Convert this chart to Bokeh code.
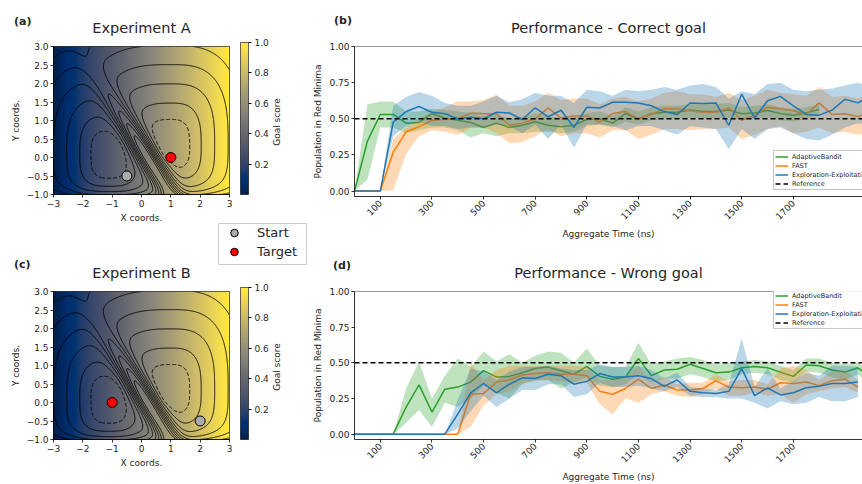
import numpy as np
from bokeh.plotting import figure
from bokeh.models import (LinearColorMapper, ColorBar, FixedTicker, Legend, LegendItem, Span,
                          Range1d, NumeralTickFormatter, CustomJSTickFormatter, GridBox, Div)
from bokeh.palettes import Cividis256
from bokeh.embed import file_html
from bokeh.resources import INLINE

FONT = "DejaVu Sans"
TXT = "#262626"
GREEN, ORANGE, BLUE = "#2ca02c", "#ff7f0e", "#1f77b4"

# ---------------------------------------------------------------- data
times = [0, 50, 100, 150, 200, 250, 300, 350, 400, 450, 500, 550, 600, 650, 700,
         750, 800, 850, 900, 950, 1000, 1050, 1100, 1150, 1200, 1250, 1300, 1350,
         1400, 1450, 1500, 1550, 1600, 1650, 1700, 1750, 1800, 1850, 1900, 1950, 2000]

# (b) correct goal
ab_correct = [0.00, 0.345, 0.53, 0.53, 0.47, 0.475, 0.535, 0.505, 0.49, 0.475, 0.44, 0.47, 0.44,
              0.455, 0.48, 0.455, 0.445, 0.455, 0.495, 0.50, 0.47, 0.535, 0.50, 0.535, 0.545,
              0.545, 0.56, 0.55, 0.55, 0.56, 0.535, 0.54, 0.557, 0.536, 0.525, 0.54, 0.565]
ab_correct_lo = [0.0, 0.08, 0.44, 0.44, 0.40, 0.42, 0.44, 0.44, 0.42, 0.37, 0.40, 0.38, 0.40, 0.40,
                 0.41, 0.41, 0.40, 0.41, 0.45, 0.46, 0.44, 0.48, 0.46, 0.49, 0.50, 0.50, 0.51, 0.50,
                 0.50, 0.51, 0.49, 0.50, 0.51, 0.49, 0.48, 0.50, 0.52]
ab_correct_hi = [0.0, 0.60, 0.62, 0.62, 0.55, 0.55, 0.57, 0.56, 0.55, 0.54, 0.52, 0.53, 0.50, 0.51,
                 0.54, 0.52, 0.50, 0.51, 0.54, 0.55, 0.52, 0.58, 0.55, 0.58, 0.59, 0.59, 0.60, 0.60,
                 0.60, 0.61, 0.58, 0.59, 0.60, 0.58, 0.57, 0.58, 0.60]

fast_correct = [0.0, 0.0, 0.0, 0.27, 0.41, 0.445, 0.49, 0.495, 0.50, 0.54, 0.535, 0.535, 0.455, 0.47,
                0.50, 0.575, 0.505, 0.52, 0.52, 0.477, 0.536, 0.55, 0.50, 0.53, 0.57, 0.57, 0.555,
                0.545, 0.545, 0.575, 0.49, 0.525, 0.58, 0.57, 0.555, 0.53, 0.61, 0.53, 0.535, 0.515,
                0.545]
fast_correct_lo = [0.0, 0.0, 0.0, 0.005, 0.26, 0.38, 0.42, 0.41, 0.39, 0.44, 0.44, 0.40, 0.33, 0.34,
                   0.38, 0.43, 0.38, 0.40, 0.40, 0.37, 0.42, 0.42, 0.36, 0.39, 0.43, 0.43, 0.42, 0.43,
                   0.43, 0.44, 0.36, 0.39, 0.43, 0.45, 0.40, 0.41, 0.44, 0.40, 0.41, 0.39, 0.40]
fast_correct_hi = [0.0, 0.0, 0.0, 0.36, 0.44, 0.50, 0.55, 0.58, 0.62, 0.62, 0.63, 0.665, 0.59, 0.59,
                   0.62, 0.68, 0.63, 0.64, 0.64, 0.60, 0.64, 0.65, 0.62, 0.64, 0.68, 0.69, 0.67, 0.67,
                   0.65, 0.68, 0.63, 0.66, 0.70, 0.68, 0.67, 0.66, 0.72, 0.65, 0.66, 0.64, 0.68]

ee_correct = [0.0, 0.0, 0.0, 0.476, 0.55, 0.585, 0.545, 0.535, 0.50, 0.51, 0.50, 0.545, 0.54, 0.495,
              0.576, 0.514, 0.559, 0.44, 0.58, 0.575, 0.614, 0.614, 0.609, 0.59, 0.55, 0.53, 0.609,
              0.605, 0.61, 0.455, 0.67, 0.505, 0.625, 0.655, 0.59, 0.53, 0.525, 0.56, 0.635, 0.61,
              0.66]
ee_correct_lo = [0.0, 0.0, 0.0, 0.38, 0.45, 0.48, 0.45, 0.45, 0.43, 0.44, 0.44, 0.46, 0.45, 0.40,
                 0.46, 0.36, 0.46, 0.30, 0.46, 0.46, 0.45, 0.42, 0.45, 0.45, 0.42, 0.39, 0.45, 0.44,
                 0.43, 0.29, 0.43, 0.36, 0.43, 0.44, 0.40, 0.36, 0.35, 0.39, 0.44, 0.47, 0.45]
ee_correct_hi = [0.0, 0.0, 0.0, 0.59, 0.65, 0.685, 0.66, 0.61, 0.59, 0.59, 0.62, 0.66, 0.615, 0.635,
                 0.68, 0.66, 0.66, 0.61, 0.70, 0.69, 0.66, 0.70, 0.69, 0.70, 0.72, 0.70, 0.73, 0.74,
                 0.72, 0.64, 0.69, 0.67, 0.74, 0.75, 0.70, 0.69, 0.70, 0.71, 0.73, 0.75, 0.72]

# (d) wrong goal
ab_wrong = [0.0, 0.0, 0.0, 0.0, 0.19, 0.345, 0.155, 0.315, 0.33, 0.365, 0.445, 0.40, 0.405, 0.43,
            0.46, 0.47, 0.445, 0.42, 0.475, 0.405, 0.385, 0.40, 0.53, 0.41, 0.45, 0.455, 0.49, 0.46,
            0.43, 0.435, 0.465, 0.475, 0.465, 0.435, 0.405, 0.485, 0.48, 0.45, 0.435, 0.465, 0.40]
ab_wrong_lo = [0.0, 0.0, 0.0, 0.0, 0.08, 0.17, 0.05, 0.22, 0.19, 0.25, 0.34, 0.29, 0.25, 0.35, 0.38,
               0.38, 0.32, 0.36, 0.40, 0.34, 0.33, 0.35, 0.42, 0.36, 0.39, 0.39, 0.42, 0.40, 0.37,
               0.38, 0.42, 0.43, 0.42, 0.38, 0.36, 0.44, 0.43, 0.40, 0.38, 0.42, 0.34]
ab_wrong_hi = [0.0, 0.0, 0.0, 0.0, 0.32, 0.51, 0.25, 0.41, 0.53, 0.47, 0.58, 0.51, 0.56, 0.50, 0.55,
               0.58, 0.57, 0.50, 0.60, 0.48, 0.47, 0.47, 0.64, 0.49, 0.51, 0.53, 0.54, 0.52, 0.49,
               0.50, 0.51, 0.52, 0.51, 0.48, 0.45, 0.53, 0.53, 0.50, 0.49, 0.50, 0.46]

fast_wrong = [0.0, 0.0, 0.0, 0.0, 0.0, 0.0, 0.0, 0.0, 0.0, 0.28, 0.285, 0.365, 0.38, 0.415, 0.425,
              0.43, 0.42, 0.42, 0.41, 0.30, 0.28, 0.32, 0.385, 0.32, 0.345, 0.31, 0.31, 0.32, 0.375,
              0.33, 0.325, 0.33, 0.315, 0.36, 0.355, 0.365, 0.34, 0.375, 0.385, 0.33]
fast_wrong_lo = [0.0, 0.0, 0.0, 0.0, 0.0, 0.0, 0.0, 0.0, 0.0, 0.05, 0.20, 0.28, 0.30, 0.36, 0.37,
                 0.38, 0.37, 0.36, 0.36, 0.21, 0.14, 0.25, 0.22, 0.28, 0.30, 0.27, 0.26, 0.28, 0.32,
                 0.27, 0.27, 0.29, 0.27, 0.28, 0.22, 0.28, 0.30, 0.32, 0.33, 0.29]
fast_wrong_hi = [0.0, 0.0, 0.0, 0.0, 0.0, 0.0, 0.0, 0.0, 0.0, 0.50, 0.38, 0.45, 0.48, 0.48, 0.48,
                 0.48, 0.48, 0.48, 0.47, 0.38, 0.38, 0.40, 0.48, 0.37, 0.40, 0.35, 0.36, 0.36, 0.42,
                 0.37, 0.38, 0.38, 0.35, 0.46, 0.48, 0.45, 0.38, 0.44, 0.45, 0.38]

ee_wrong = [0.0, 0.0, 0.0, 0.0, 0.0, 0.0, 0.0, 0.0, 0.14, 0.29, 0.355, 0.29, 0.35, 0.395, 0.39, 0.42,
            0.41, 0.35, 0.37, 0.425, 0.40, 0.40, 0.41, 0.39, 0.335, 0.38, 0.30, 0.29, 0.285, 0.30,
            0.46, 0.27, 0.325, 0.275, 0.29, 0.325, 0.335, 0.355, 0.355, 0.365]
ee_wrong_lo = [0.0, 0.0, 0.0, 0.0, 0.0, 0.0, 0.0, 0.0, 0.04, 0.16, 0.27, 0.19, 0.25, 0.31, 0.31, 0.35,
               0.35, 0.26, 0.28, 0.36, 0.33, 0.33, 0.34, 0.32, 0.30, 0.33, 0.27, 0.26, 0.26, 0.25,
               0.25, 0.22, 0.18, 0.23, 0.21, 0.22, 0.26, 0.23, 0.23, 0.26]
ee_wrong_hi = [0.0, 0.0, 0.0, 0.0, 0.0, 0.0, 0.0, 0.0, 0.24, 0.46, 0.44, 0.38, 0.44, 0.47, 0.47, 0.48,
               0.46, 0.45, 0.45, 0.49, 0.47, 0.47, 0.48, 0.45, 0.39, 0.43, 0.33, 0.32, 0.31, 0.35,
               0.67, 0.33, 0.46, 0.32, 0.37, 0.43, 0.41, 0.48, 0.48, 0.47]

reference_level = 0.5
series_names = ["AdaptiveBandit", "FAST", "Exploration-Exploitation"]
series_colors = [GREEN, ORANGE, BLUE]

time_ticks = [100, 300, 500, 700, 900, 1100, 1300, 1500, 1700]
pop_ticks = [0.0, 0.25, 0.5, 0.75, 1.0]

# toy landscape
coord_x_ticks = [-3, -2, -1, 0, 1, 2, 3]
coord_y_ticks = [-1.0, -0.5, 0.0, 0.5, 1.0, 1.5, 2.0, 2.5, 3.0]
score_ticks = [0.2, 0.4, 0.6, 0.8, 1.0]
exp_a_start, exp_a_target = (-0.5, -0.5), (1.0, 0.0)
exp_b_start, exp_b_target = (2.0, -0.5), (-1.0, 0.0)
neg_levels = [-0.35]
pos_levels = [0.5, 1.5, 2.5, 3.5, 4.5, 5.5, 6.5, 7.5]

# ---------------------------------------------------------------- landscape field
gx = np.linspace(-3, 3, 361)
gy = np.linspace(-1, 3, 241)
GX, GY = np.meshgrid(gx, gy)


def potential(X, Y):
    # coordinates across (u) and along (v) the diagonal barrier
    u = (X - 0.15) * 0.774 + (Y - 0.1) * 0.633
    v = (X - 0.15) * 0.633 - (Y - 0.1) * 0.774

    def cone(cx, cy, sxl, sxr, syd, syu):
        dx = X - cx
        dy = Y - cy
        dx = np.where(dx < 0, dx / sxl, dx / sxr)
        dy = np.where(dy < 0, dy / syd, dy / syu)
        return (np.abs(dx) ** 3 + np.abs(dy) ** 3) ** (1 / 3)

    left = cone(-1.1, 0.05, 1.12, 1.1, 1.24, 1.2)
    right = cone(1.0, 0.3, 1.5, 1.15, 1.12, 1.3)
    side = 1.0 / (1.0 + np.exp(-u / 0.08))
    base = (1 - side) * left + side * right
    wall = 2.0 * np.exp(-(Y + 1) / 0.18)
    ridge = 8.0 * np.exp(-(u / 0.3) ** 2) * np.exp(-(v / 1.9) ** 2)
    return 2.5 * base - 1.75 + wall + ridge


V = potential(GX, GY)
goal_score = (GX + 3.0) / 6.0
mapper = LinearColorMapper(palette=Cividis256, low=0.0, high=1.0)


def style_axes(p, size="9px"):
    for ax in p.axis:
        ax.axis_line_color = "black"
        ax.axis_line_width = 0.8
        ax.major_tick_line_color = "black"
        ax.major_tick_line_width = 0.8
        ax.minor_tick_line_color = None
        ax.major_tick_out = 3
        ax.major_tick_in = 0
        ax.major_label_text_font = FONT
        ax.major_label_text_font_size = size
        ax.major_label_text_color = TXT
        ax.axis_label_text_font = FONT
        ax.axis_label_text_font_size = size
        ax.axis_label_text_font_style = "normal"
        ax.axis_label_text_color = TXT
        ax.major_label_standoff = 2
        ax.axis_label_standoff = 3
    p.grid.visible = False


def style_title(p, standoff):
    p.title.text_font = FONT
    p.title.text_font_size = "14.5px"
    p.title.text_font_style = "normal"
    p.title.text_color = TXT
    p.title.align = "center"
    p.title.standoff = standoff


def landscape(title, start, target, height, top, bottom, title_standoff):
    p = figure(width=310, height=height, x_range=Range1d(-3, 3), y_range=Range1d(-1, 3),
               min_border_left=53, min_border_right=81, min_border_top=top,
               min_border_bottom=bottom, output_backend="svg", toolbar_location=None,
               title=title)
    p.image(image=[goal_score], x=-3, y=-1, dw=6, dh=4, color_mapper=mapper)
    p.contour(gx, gy, V, levels=neg_levels, line_color="black", line_width=0.9,
              line_dash="4 2")
    p.contour(gx, gy, V, levels=pos_levels, line_color="black", line_width=0.9)
    p.scatter([start[0]], [start[1]], size=10, fill_color="#ababab", line_color="black",
              line_width=1)
    p.scatter([target[0]], [target[1]], size=10, fill_color="#ff0000", line_color="black",
              line_width=1)
    p.outline_line_color = "black"
    p.outline_line_width = 0.8
    p.xaxis.axis_label = "X coords."
    p.yaxis.axis_label = "Y coords."
    p.xaxis.ticker = FixedTicker(ticks=coord_x_ticks)
    p.yaxis.ticker = FixedTicker(ticks=coord_y_ticks)
    p.xaxis.formatter = CustomJSTickFormatter(code="return tick.toFixed(0).replace('-', '\u2212')")
    p.yaxis.formatter = CustomJSTickFormatter(code="return tick.toFixed(1).replace('-', '\u2212')")
    style_axes(p)
    style_title(p, title_standoff)

    cb = ColorBar(color_mapper=mapper, ticker=FixedTicker(ticks=score_ticks),
                  formatter=NumeralTickFormatter(format="0.0"), width=8, height=152,
                  padding=0, margin=0, location=(11, 0), major_label_text_font=FONT,
                  major_label_text_font_size="9px", major_label_text_color=TXT,
                  major_tick_out=3, major_tick_in=0, major_tick_line_color="black",
                  bar_line_color="black", bar_line_width=0.6, label_standoff=3,
                  background_fill_color=None)
    p.add_layout(cb, "right")
    return p


def performance(title, series, height, top, bottom, legend_y, title_standoff):
    p = figure(width=552, height=height, x_range=Range1d(0, 1968),
               y_range=Range1d(-0.0375, 1.0), min_border_left=41, min_border_right=0,
               min_border_top=top, min_border_bottom=bottom, output_backend="svg",
               toolbar_location=None, title=title)
    items = []
    for (mean, lo, hi), name, color in zip(series, series_names, series_colors):
        p.varea(x=times[:len(lo)], y1=lo, y2=hi, fill_color=color, fill_alpha=0.3)
        r = p.line(times[:len(mean)], mean, line_color=color, line_width=1.5)
        items.append(LegendItem(label=name, renderers=[r]))
    ref = p.line([times[0], times[-1]], [reference_level, reference_level], line_color="black",
                 line_width=1.5, line_dash="5 3")
    items.append(LegendItem(label="Reference", renderers=[ref]))
    p.add_layout(Span(location=1.0, dimension="width", line_color="black", line_width=0.8))
    p.outline_line_color = None
    p.xaxis.axis_label = "Aggregate Time (ns)"
    p.yaxis.axis_label = "Population in Red Minima"
    p.xaxis.ticker = FixedTicker(ticks=time_ticks)
    p.yaxis.ticker = FixedTicker(ticks=pop_ticks)
    p.yaxis.formatter = NumeralTickFormatter(format="0.00")
    p.xaxis.major_label_orientation = np.pi / 4
    style_axes(p)
    style_title(p, title_standoff)
    leg = Legend(items=items, location=(419, legend_y), label_text_font=FONT,
                 label_text_font_size="6.5px", label_text_color=TXT, glyph_width=13,
                 glyph_height=9, label_height=9, label_standoff=4, spacing=0, padding=1,
                 margin=0, border_line_color="#c8c8c8", border_line_width=1,
                 border_line_alpha=1.0, background_fill_alpha=0.85)
    p.add_layout(leg, "center")
    return p


def marker_legend():
    # the canvas is exactly the legend box; its outline is the box frame
    p = figure(width=89, height=42, x_range=Range1d(0, 1), y_range=Range1d(0, 1),
               min_border=0, x_axis_location=None, y_axis_location=None,
               output_backend="svg", toolbar_location=None)
    p.grid.visible = False
    p.outline_line_color = "#c8c8c8"
    p.outline_line_width = 1
    s = p.scatter([-5], [-5], size=10, fill_color="#ababab", line_color="black", line_width=1)
    t = p.scatter([-5], [-5], size=10, fill_color="#ff0000", line_color="black", line_width=1)
    leg = Legend(items=[LegendItem(label="Start", renderers=[s]),
                        LegendItem(label="Target", renderers=[t])],
                 location="top_left", label_text_font=FONT, label_text_font_size="13px",
                 label_text_color=TXT, glyph_width=32, glyph_height=19, label_height=19,
                 label_standoff=7, spacing=0, padding=2, margin=0,
                 border_line_color=None, background_fill_alpha=0.0)
    p.add_layout(leg, "center")
    return p


def tag(text, top, left):
    return Div(text=text, width=24, height=12, margin=(top, 0, 0, left), align="start",
               styles={"font-family": FONT, "font-size": "11px", "font-weight": "bold",
                       "color": TXT, "line-height": "12px"})


def side_label(text, cx, cy):
    w, h = 70, 12
    return Div(text=text, width=w, height=h, margin=(int(cy - h / 2), 0, 0, int(cx - w / 2)),
               align="start",
               styles={"font-family": FONT, "font-size": "9px", "color": TXT,
                       "line-height": "12px", "text-align": "center",
                       "transform": "rotate(-90deg)"})


fig_a = landscape("Experiment A", exp_a_start, exp_a_target, 225, 46, 27, 21)
fig_c = landscape("Experiment B", exp_b_start, exp_b_target, 259, 66, 41, 21)
fig_b = performance("Performance - Correct goal",
                    [(ab_correct, ab_correct_lo, ab_correct_hi),
                     (fast_correct, fast_correct_lo, fast_correct_hi),
                     (ee_correct, ee_correct_lo, ee_correct_hi)], 241, 46, 43, 6, 21)
fig_d = performance("Performance - Wrong goal",
                    [(ab_wrong, ab_wrong_lo, ab_wrong_hi),
                     (fast_wrong, fast_wrong_lo, fast_wrong_hi),
                     (ee_wrong, ee_wrong_lo, ee_wrong_hi)], 243, 50, 41, 110, 22)
legend_box = marker_legend()

# grid tracks: rows 0-223-225-241-265-484, cols 0-218-307-310-862
rows = ["223px", "2px", "16px", "24px", "219px"]
cols = ["218px", "89px", "3px", "552px"]
children = [
    (fig_a, 0, 0, 2, 3),
    (fig_c, 2, 0, 3, 3),
    (fig_b, 0, 3, 3, 1),
    (fig_d, 3, 3, 2, 1),
    (legend_box, 1, 1, 3, 1),
]
overlays = [tag("(a)", 16, 14), tag("(c)", 259, 14), tag("(b)", 15, 334), tag("(d)", 260, 333),
            side_label("Goal score", 277, 122), side_label("Goal score", 277, 367)]
children += [(d, 0, 0, 5, 4) for d in overlays]
grid = GridBox(children=children, rows=rows, cols=cols, spacing=0)
open("out.html", "w").write(file_html(grid, INLINE))
